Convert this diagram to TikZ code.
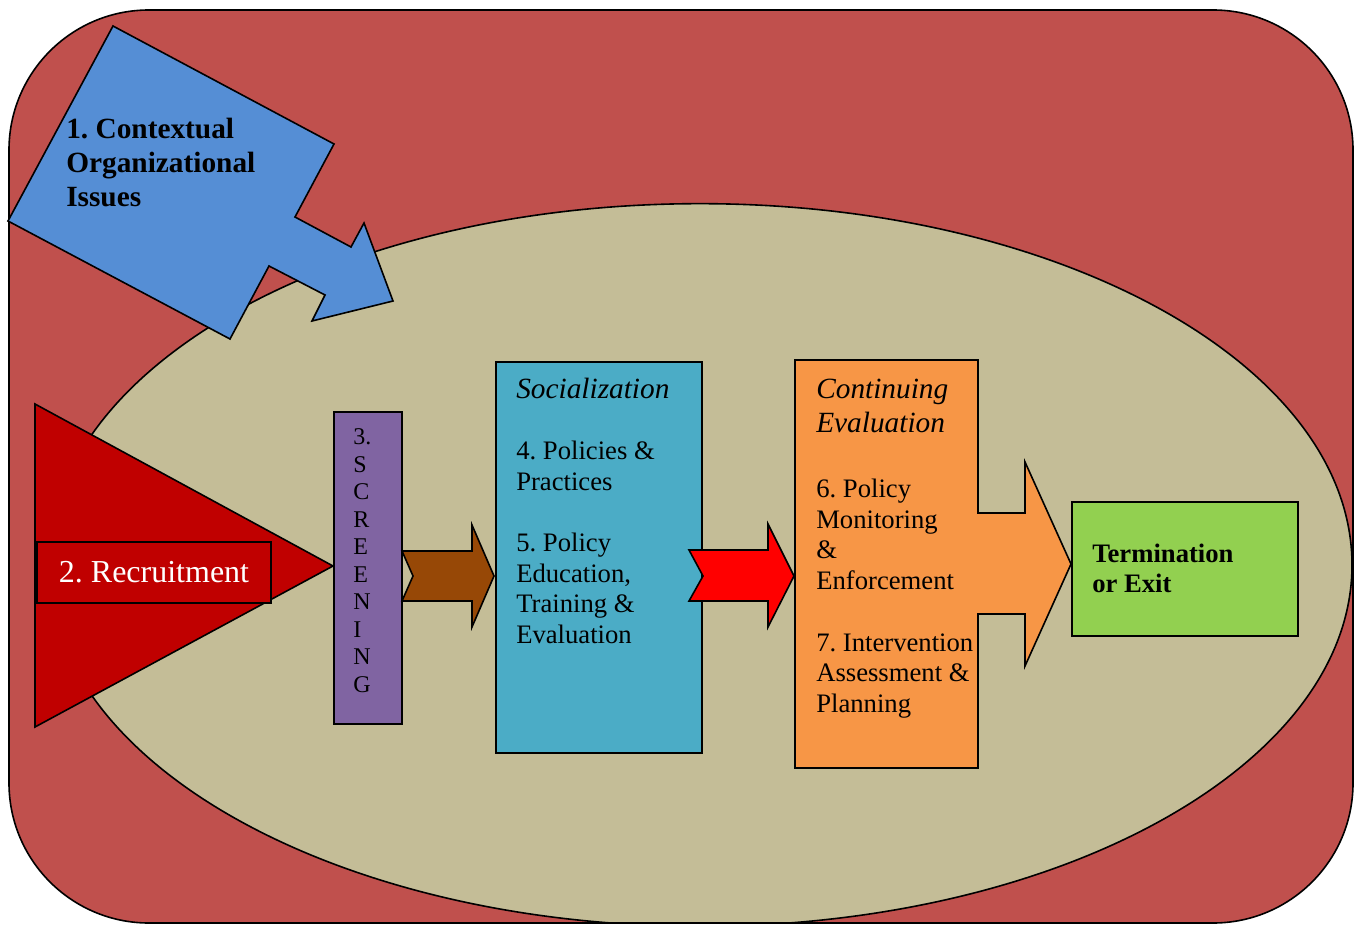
\documentclass[tikz,border=0pt]{standalone}
\usepackage{fontspec}
\setmainfont{Liberation Serif}
\frenchspacing
\usetikzlibrary{positioning}
\definecolor{framered}{HTML}{C0504D}
\definecolor{fieldtan}{HTML}{C4BD97}
\definecolor{contextblue}{HTML}{558ED5}
\definecolor{recruitred}{HTML}{C00000}
\definecolor{screenpurple}{HTML}{8064A2}
\definecolor{arrowbrown}{HTML}{974806}
\definecolor{socialcyan}{HTML}{4BACC6}
\definecolor{evalorange}{HTML}{F79646}
\definecolor{exitgreen}{HTML}{92D050}

\begin{document}
\begin{tikzpicture}[
    x=0.75pt, y=-0.75pt,
    shapeline/.style={draw=black, line width=1.2pt, line join=miter},
    blockbox/.style={shapeline, rectangle, inner sep=0pt, anchor=north west},
    headtext/.style={anchor=base west, align=left, inner sep=0pt, font=\fontsize{22}{25.5}\selectfont\itshape},
    bodytext/.style={anchor=base west, align=left, inner sep=0pt, font=\fontsize{20}{22.8}\selectfont},
]

\useasboundingbox (0,0) rectangle (1362,927);

% Outer frame
\fill[framered, rounded corners=105pt] (9,10) rectangle (1353,923);

% Field ellipse, clipped to the frame
\begin{scope}
\clip[rounded corners=105pt] (9,10) rectangle (1353,923);
\draw[shapeline, fill=fieldtan] (700,565) ellipse [x radius=489pt, y radius=271pt];
\end{scope}
\draw[shapeline, rounded corners=105pt] (9,10) rectangle (1353,923);

% 1. Contextual issues (tilted block arrow)
\draw[shapeline, fill=contextblue] (113,26) -- (334,144) -- (295,217) -- (351,247) -- (364,223)
    -- (393,301) -- (312,321) -- (325,295) -- (269,266) -- (230,339) -- (8,221) -- cycle;
\node[anchor=base west, align=left, inner sep=0pt, font=\fontsize{22}{25.5}\selectfont\bfseries]
    (context) at (66,207) {1. Contextual\\Organizational\\Issues};

% 2. Recruitment
\draw[shapeline, fill=recruitred] (35,404) -- (333,566) -- (35,727) -- cycle;
\node[shapeline, fill=recruitred, minimum width=175.5pt, minimum height=45.75pt, inner sep=0pt,
    text=white, font=\fontsize{24}{28}\selectfont] (recruit) at (154,572.5) {2. Recruitment};

% 3. Screening
\node[blockbox, fill=screenpurple, minimum width=51pt, minimum height=234pt] (screen) at (333,411) {};
\node[anchor=base west, align=left, inner sep=0pt, font=\fontsize{18}{20.6}\selectfont]
    (screenlbl) at (353,692) {3.\\S\\C\\R\\E\\E\\N\\I\\N\\G};

% Screening -> Socialization
\draw[shapeline, fill=arrowbrown] (402,551) -- (472,551) -- (472,525) -- (494,576) -- (472,627)
    -- (472,601) -- (402,601) -- (413,576) -- cycle;

% Socialization
\node[blockbox, fill=socialcyan, minimum width=154.5pt, minimum height=293.25pt] (social) at (495,361) {};
\node[headtext] (socialhead) at (516,398) {Socialization};
\node[bodytext] (policies) at (516,490) {4. Policies \&\\Practices};
\node[bodytext] (education) at (516,643) {5. Policy\\Education,\\Training \&\\Evaluation};

% Socialization -> Continuing evaluation
\draw[shapeline, fill=red] (689,550) -- (768,550) -- (768,524) -- (794,576) -- (768,627)
    -- (768,601) -- (689,601) -- (703,576) -- cycle;

% Continuing evaluation (box with arrow to exit)
\draw[shapeline, fill=evalorange] (795,360) -- (978,360) -- (978,513) -- (1025,513) -- (1025,462)
    -- (1071,564) -- (1025,666) -- (1025,614) -- (978,614) -- (978,768) -- (795,768) -- cycle;
\node[headtext] (evalhead) at (816,432) {Continuing\\Evaluation};
\node[bodytext] (monitor) at (816,589) {6. Policy\\Monitoring\\\&\\Enforcement};
\node[bodytext] (intervene) at (816,712) {7. Intervention\\Assessment \&\\Planning};

% Termination
\node[blockbox, fill=exitgreen, minimum width=169.5pt, minimum height=100.5pt] (exit) at (1071,501) {};
\node[anchor=base west, align=left, inner sep=0pt, font=\fontsize{20}{22.5}\selectfont\bfseries]
    (exitlbl) at (1092,592) {Termination\\or Exit};

\end{tikzpicture}
\end{document}
